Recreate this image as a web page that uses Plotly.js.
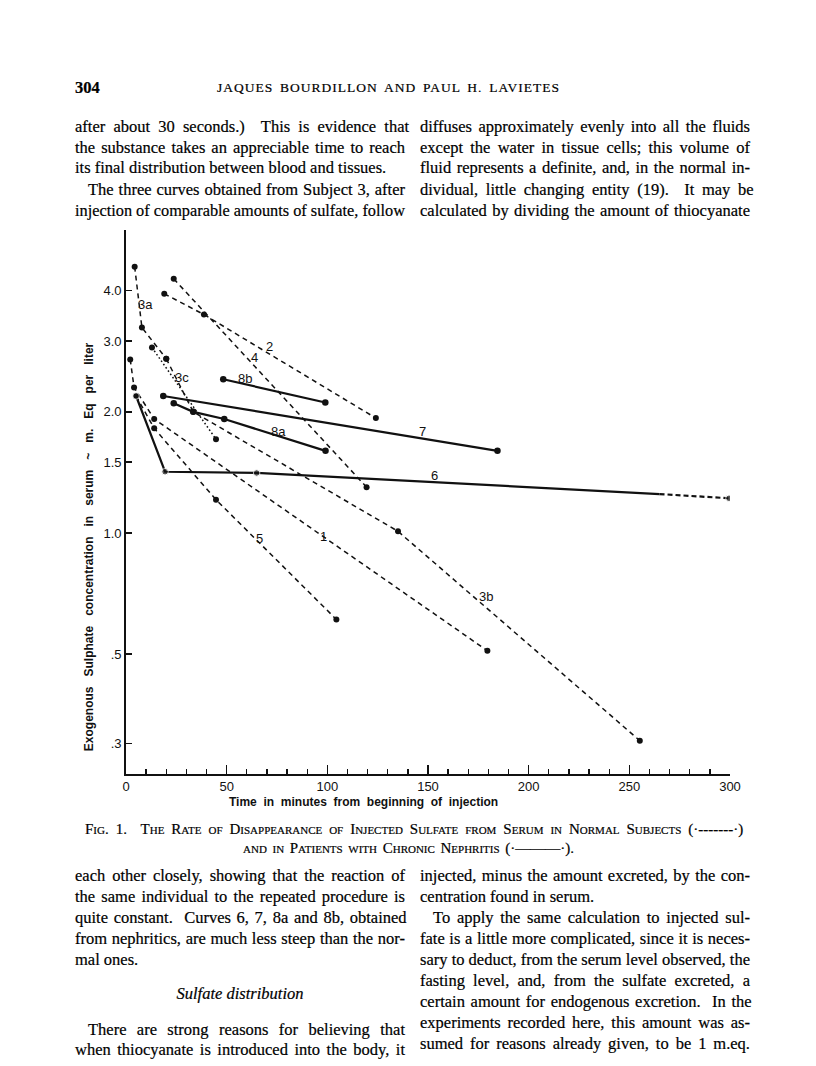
<!DOCTYPE html>
<html>
<head>
<meta charset="utf-8">
<script src="https://cdn.plot.ly/plotly-3.0.1.min.js"></script>
<style>
  html, body { margin: 0; padding: 0; background: #fff; }
  #page { position: relative; width: 816px; height: 1066px; overflow: hidden; background: #fff; }
  #chart { position: absolute; left: 0; top: 0; width: 816px; height: 1066px; }
  .ln { position: absolute; font-family: "Liberation Serif", "DejaVu Serif", serif; font-size: 16.5px; line-height: 20px; color: #000; white-space: nowrap; transform-origin: 0 50%; -webkit-text-stroke: 0.2px #000; }
  .cap { font-variant: small-caps; font-size: 15px; }
</style>
</head>
<body>
<div id="page">
  <div id="chart"></div>
  <div id="text"></div>
</div>
<script>
// ---- Data (time in minutes, sulphate in m.Eq per liter) ----
const c1T  = [2.1, 4.0, 14.0, 179.5];
const c1V  = [2.70, 2.30, 1.92, 0.51];
const c2T  = [19.0, 38.7, 124.1];
const c2V  = [3.93, 3.49, 1.93];
const c3aT = [4.3, 7.9, 20.0];
const c3aV = [4.59, 3.24, 2.71];
const c3bT = [20.0, 33.4, 135.1, 255.2];
const c3bV = [2.71, 2.00, 1.01, 0.305];
const c3cT = [12.9, 44.7];
const c3cV = [2.89, 1.71];
const c4T  = [23.7, 119.5];
const c4V  = [4.28, 1.30];
const c5T  = [5.0, 14.0, 44.7, 104.5];
const c5V  = [2.19, 1.82, 1.21, 0.61];
const c6T  = [5.0, 19.4, 64.9, 265];
const c6V  = [2.19, 1.42, 1.41, 1.25];
const c6TailT = [265, 299.5];
const c6TailV = [1.25, 1.22];
const c7T  = [18.5, 184.5];
const c7V  = [2.19, 1.60];
const c8aT = [23.7, 33.4, 48.8, 99.1];
const c8aV = [2.10, 2.00, 1.92, 1.60];
const c8bT = [48.3, 99.0];
const c8bV = [2.41, 2.11];

const labelText = ['3a', '2', '4', '3c', '8b', '8a', '7', '6', '5', '1', '3b'];
const labelT    = [9.9, 71.5, 63.7, 27.6, 59.1, 75.9, 147.5, 153.3, 66.5, 97.9, 179];
const labelV    = [3.69, 2.90, 2.73, 2.44, 2.42, 1.79, 1.787, 1.39, 0.972, 0.981, 0.694];

const xTickVals = [0, 50, 100, 150, 200, 250, 300];
const xTickText = ['0', '50', '100', '150', '200', '250', '300'];
const yTickVals = [0.3, 0.5, 1.0, 1.5, 2.0, 3.0, 4.0];
const yTickText = ['.3', '.5', '1.0', '1.5', '2.0', '3.0', '4.0'];

// ---- Traces ----
const INK = '#111';
function normal(t, v, dash) {
  return { x: t, y: v, type: 'scatter', mode: 'lines+markers',
    line: { color: INK, width: 1.5, dash: dash || '5px,4px' },
    marker: { color: INK, size: 6 }, hoverinfo: 'skip', showlegend: false };
}
function nephritic(t, v, sizes) {
  return { x: t, y: v, type: 'scatter', mode: 'lines+markers',
    line: { color: INK, width: 2.2 },
    marker: { color: INK, size: sizes || 6.5 }, hoverinfo: 'skip', showlegend: false };
}
const traces = [
  normal(c1T, c1V),
  normal(c2T, c2V),
  normal(c3aT, c3aV),
  normal(c3bT, c3bV),
  normal(c3cT, c3cV, '1.6px,2.4px'),
  normal(c4T, c4V),
  normal(c5T, c5V),
  nephritic(c6T, c6V, c6T.map((t, i) => i === c6T.length - 1 ? 0 : 6.5)),
  { x: c6TailT, y: c6TailV, type: 'scatter', mode: 'lines+markers',
    line: { color: INK, width: 2.2, dash: '5px,3px' },
    marker: { color: INK, size: c6TailT.map((t, i) => i === 0 ? 0 : 6.5) }, hoverinfo: 'skip', showlegend: false },
  nephritic(c7T, c7V),
  nephritic(c8aT, c8aV),
  nephritic(c8bT, c8bV)
];

const sans = '"Liberation Sans", "DejaVu Sans", sans-serif';
const annotations = labelText.map((s, i) => ({
  x: labelT[i], y: Math.log10(labelV[i]), xref: 'x', yref: 'y', text: s,
  showarrow: false, xanchor: 'center', yanchor: 'middle',
  font: { family: sans, size: 13, color: INK }
}));
const nb = '\u00A0\u00A0\u00A0';
annotations.push({
  xref: 'paper', yref: 'paper', x: -0.062, y: 0.418, textangle: -90,
  text: ['Exogenous', 'Sulphate', 'concentration', 'in', 'serum', '~', 'm.', 'Eq', 'per', 'liter'].join(nb),
  showarrow: false, xanchor: 'center', yanchor: 'middle',
  font: { family: sans, size: 12, color: INK, weight: 'bold' }
});
annotations.push({
  xref: 'paper', yref: 'paper', x: 0.393, y: -0.052,
  text: ['Time', 'in', 'minutes', 'from', 'beginning', 'of', 'injection'].join('\u00A0\u00A0'),
  showarrow: false, xanchor: 'center', yanchor: 'middle',
  font: { family: sans, size: 12, color: INK, weight: 'bold' }
});

const layout = {
  width: 816, height: 1066,
  margin: { l: 126, r: 86, t: 230, b: 292, pad: 0 },
  paper_bgcolor: '#fff', plot_bgcolor: '#fff',
  showlegend: false,
  xaxis: {
    range: [0, 300], showgrid: false, zeroline: false,
    showline: true, linecolor: INK, linewidth: 1.8,
    tickmode: 'array', tickvals: xTickVals, ticktext: xTickText,
    ticks: 'inside', ticklen: 9, tickwidth: 1.5, tickcolor: INK,
    minor: { dtick: 10, ticks: 'inside', ticklen: 5, tickwidth: 1.3, tickcolor: INK, showgrid: false },
    tickfont: { family: sans, size: 13, color: INK }
  },
  yaxis: {
    type: 'log', range: [Math.log10(0.252), Math.log10(5.66)],
    showgrid: false, zeroline: false,
    showline: true, linecolor: INK, linewidth: 1.8,
    tickmode: 'array', tickvals: yTickVals, ticktext: yTickText,
    ticks: 'inside', ticklen: 6, tickwidth: 1.5, tickcolor: INK,
    tickfont: { family: sans, size: 13, color: INK }
  },
  annotations: annotations
};

Plotly.newPlot('chart', traces, layout, { staticPlot: true, displayModeBar: false });

// ---- Page text ----
const lines = [
  // [text, left, centerY, width(0 = natural), cls]
  ['304', 75, 88, 0, 'bold'],
  ['JAQUES BOURDILLON AND PAUL H. LAVIETES', 217, 88, 343, 'hdr'],
  ['after about 30 seconds.)\u00A0 This is evidence that', 75, 127, 330, ''],
  ['the substance takes an appreciable time to reach', 75, 148, 330, ''],
  ['its final distribution between blood and tissues.', 75, 168, 0, ''],
  ['The three curves obtained from Subject 3, after', 88, 190, 317, ''],
  ['injection of comparable amounts of sulfate, follow', 75, 211, 330, ''],
  ['diffuses approximately evenly into all the fluids', 420, 127, 330, ''],
  ['except the water in tissue cells; this volume of', 420, 148, 330, ''],
  ['fluid represents a definite, and, in the normal in-', 420, 168, 330, ''],
  ['dividual, little changing entity (19).\u00A0 It may be', 420, 190, 330, ''],
  ['calculated by dividing the amount of thiocyanate', 420, 211, 330, ''],
  ['Fig. 1.\u00A0 The Rate of Disappearance of Injected Sulfate from Serum in Normal Subjects (\u00B7-------\u00B7)', 85, 829, 655, 'cap'],
  ['and in Patients with Chronic Nephritis (\u00B7\u2014\u2014\u2014\u00B7).', 243, 848, 331, 'cap'],
  ['each other closely, showing that the reaction of', 75, 876, 330, ''],
  ['the same individual to the repeated procedure is', 75, 897, 330, ''],
  ['quite constant.\u00A0 Curves 6, 7, 8a and 8b, obtained', 75, 918, 330, ''],
  ['from nephritics, are much less steep than the nor-', 75, 939, 330, ''],
  ['mal ones.', 75, 960, 0, ''],
  ['There are strong reasons for believing that', 88, 1030, 317, ''],
  ['when thiocyanate is introduced into the body, it', 75, 1050, 330, ''],
  ['injected, minus the amount excreted, by the con-', 420, 876, 330, ''],
  ['centration found in serum.', 420, 897, 0, ''],
  ['To apply the same calculation to injected sul-', 433, 918, 317, ''],
  ['fate is a little more complicated, since it is neces-', 420, 939, 330, ''],
  ['sary to deduct, from the serum level observed, the', 420, 960, 330, ''],
  ['fasting level, and, from the sulfate excreted, a', 420, 981, 330, ''],
  ['certain amount for endogenous excretion.\u00A0 In the', 420, 1002, 330, ''],
  ['experiments recorded here, this amount was as-', 420, 1023, 330, ''],
  ['sumed for reasons already given, to be 1 m.eq.', 420, 1044, 330, '']
];
const holder = document.getElementById('text');
lines.forEach(([txt, left, cy, w, cls]) => {
  const d = document.createElement('div');
  d.className = 'ln ' + cls;
  d.textContent = txt;
  d.style.left = left + 'px';
  d.style.top = (cy - 10) + 'px';
  if (cls === 'bold') d.style.fontWeight = 'bold';
  if (cls === 'hdr') { d.style.fontSize = '13.5px'; d.style.letterSpacing = '1px'; }
  holder.appendChild(d);
  if (w) {
    const natural = d.getBoundingClientRect().width;
    const spaces = (txt.match(/ /g) || []).length;
    if (natural > w) {
      d.style.transform = 'scaleX(' + (w / natural) + ')';
    } else if (spaces > 0) {
      d.style.wordSpacing = ((w - natural) / spaces) + 'px';
    }
  }
});
const h = document.createElement('div');
h.className = 'ln';
h.style.fontStyle = 'italic';
h.style.left = '0px'; h.style.width = '480px'; h.style.textAlign = 'center';
h.style.top = (994 - 10) + 'px';
h.textContent = 'Sulfate distribution';
holder.appendChild(h);
</script>
</body>
</html>
